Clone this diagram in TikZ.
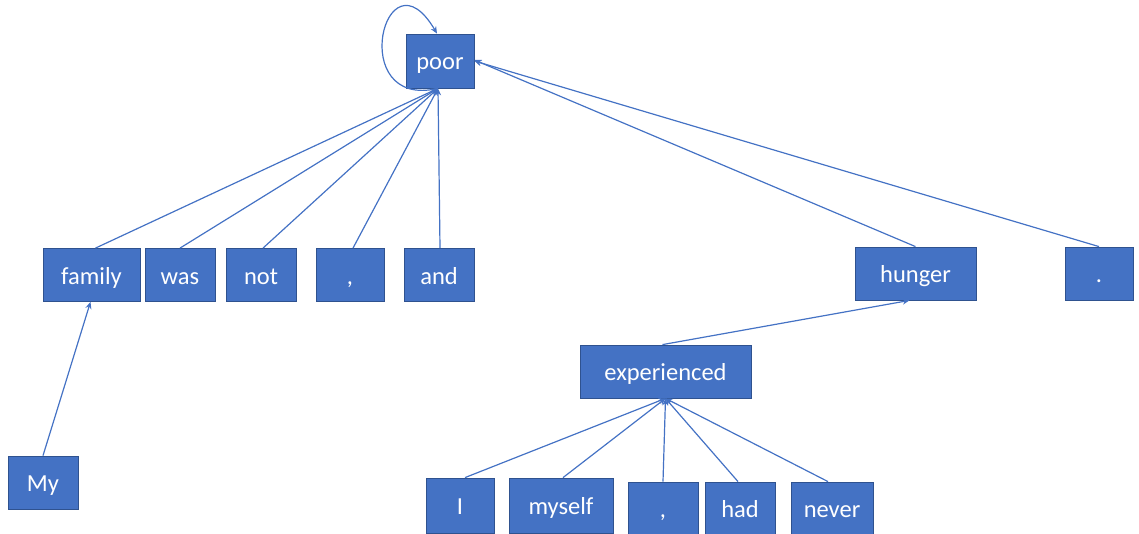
\documentclass[tikz,border=0pt]{standalone}
\usepackage{fontspec}
\setmainfont{Carlito}
\usetikzlibrary{arrows.meta}
\definecolor{boxfill}{HTML}{4472C4}
\definecolor{boxline}{HTML}{2F528F}
\begin{document}
\begin{tikzpicture}[x=1pt,y=-1pt,
  word/.style={rectangle,fill=boxfill,draw=boxline,line width=0.8pt,
    text=white,inner sep=0pt,font=\fontsize{24.5}{27}\selectfont,
    text height=18pt,text depth=0pt,minimum height=53pt},
  dep/.style={draw=boxfill,line width=1.2pt,
    -{Stealth[length=7pt,width=6pt]}}]
\useasboundingbox (0,0) rectangle (1139,534);

% tokens of the sentence
\node[word,minimum width=68pt,minimum height=54pt] (poor) at (440,61) {poor};
\node[word,minimum width=97pt] (family) at (91.5,275) {family};
\node[word,minimum width=70pt] (was) at (180,275) {was};
\node[word,minimum width=70pt] (not) at (261,275) {not};
\node[word,minimum width=68pt] (c1) at (350,275) {,};
\node[word,minimum width=70pt] (and) at (439,275) {and};
\node[word,minimum width=121pt] (hunger) at (915.5,273.5) {hunger};
\node[word,minimum width=68pt] (dot) at (1099,273.5) {.};
\node[word,minimum width=171pt] (exp) at (665.5,371.5) {experienced};
\node[word,minimum width=70pt] (my) at (43,482.5) {My};
\node[word,minimum width=68pt,minimum height=55pt] (i) at (460,505.5) {I};
\node[word,minimum width=104pt,minimum height=55pt] (myself) at (561,505.5) {myself};
\node[word,minimum width=70pt,minimum height=52pt] (c2) at (663,508) {,};
\node[word,minimum width=70pt,minimum height=52pt] (had) at (740,508) {had};
\node[word,minimum width=82pt,minimum height=52pt] (never) at (832,508) {never};

% dependency arcs, child to head
\coordinate (poorin) at ([xshift=-2pt]poor.south);
\draw[dep] ([xshift=4pt]family.north) -- (poorin);
\draw[dep] (was.north) -- (poorin);
\draw[dep] ([xshift=2pt]not.north) -- (poorin);
\draw[dep] ([xshift=3pt]c1.north) -- (poorin);
\draw[dep] ([xshift=1pt]and.north) -- (poorin);
\draw[dep] (hunger.north) -- ([yshift=1pt]poor.east);
\draw[dep] (dot.north) -- (poor.east);
\draw[dep] (my.north) -- ([xshift=-1pt]family.south);
\draw[dep] ([xshift=-3pt]exp.north) -- ([xshift=-6pt]hunger.south);
\draw[dep] ([xshift=5pt]i.north) -- (exp.south);
\draw[dep] ([xshift=2pt]myself.north) -- (exp.south);
\draw[dep] (c2.north) -- (exp.south);
\draw[dep] ([xshift=-2pt]had.north) -- (exp.south);
\draw[dep] ([xshift=-4pt]never.north) -- (exp.south);

% root self-loop
\draw[dep] (poorin) .. controls (345,110) and (385,-55) .. ([xshift=-3pt]poor.north);
\end{tikzpicture}
\end{document}
